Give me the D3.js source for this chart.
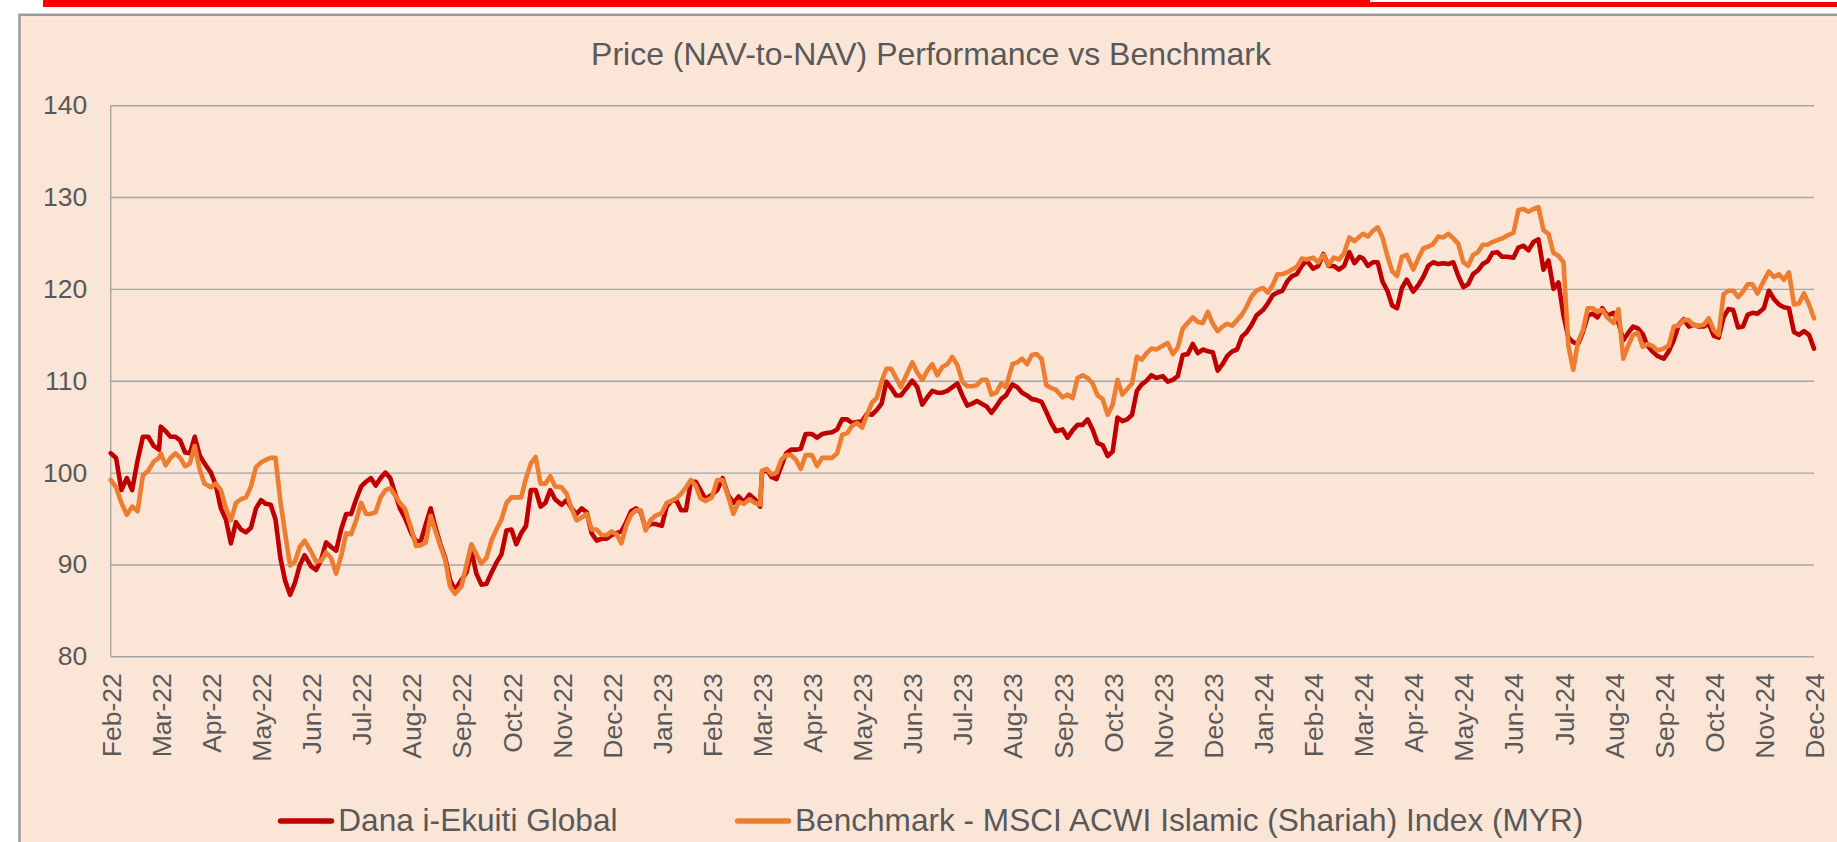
<!DOCTYPE html>
<html><head><meta charset="utf-8">
<script src="https://cdn.jsdelivr.net/npm/d3@7"></script>
<style>html,body{margin:0;padding:0;background:#fff;overflow:hidden;} svg{display:block;}</style>
</head><body>
<svg id="chart" width="1837" height="842"></svg>
<script>
const chartTitle = "Price (NAV-to-NAV) Performance vs Benchmark";
const seriesNames = ["Dana i-Ekuiti Global", "Benchmark - MSCI ACWI Islamic (Shariah) Index (MYR)"];
const monthLabels = ["Feb-22","Mar-22","Apr-22","May-22","Jun-22","Jul-22","Aug-22","Sep-22","Oct-22","Nov-22","Dec-22",
 "Jan-23","Feb-23","Mar-23","Apr-23","May-23","Jun-23","Jul-23","Aug-23","Sep-23","Oct-23","Nov-23","Dec-23",
 "Jan-24","Feb-24","Mar-24","Apr-24","May-24","Jun-24","Jul-24","Aug-24","Sep-24","Oct-24","Nov-24","Dec-24"];
const yTicks = [80, 90, 100, 110, 120, 130, 140];

const dates = [
"2022-02-01","2022-02-04","2022-02-07","2022-02-10","2022-02-13","2022-02-16","2022-02-19","2022-02-22","2022-02-25","2022-02-28",
"2022-03-01","2022-03-04","2022-03-07","2022-03-10","2022-03-13","2022-03-16","2022-03-19","2022-03-22","2022-03-25","2022-03-28",
"2022-04-01","2022-04-04","2022-04-07","2022-04-10","2022-04-13","2022-04-16","2022-04-19","2022-04-22","2022-04-25","2022-04-28",
"2022-05-01","2022-05-04","2022-05-07","2022-05-10","2022-05-13","2022-05-16","2022-05-19","2022-05-22","2022-05-25","2022-05-28",
"2022-06-01","2022-06-04","2022-06-07","2022-06-10","2022-06-13","2022-06-16","2022-06-19","2022-06-22","2022-06-25","2022-06-28",
"2022-07-01","2022-07-04","2022-07-07","2022-07-10","2022-07-13","2022-07-16","2022-07-19","2022-07-22","2022-07-25","2022-07-28",
"2022-08-01","2022-08-04","2022-08-07","2022-08-10","2022-08-13","2022-08-16","2022-08-19","2022-08-22","2022-08-25","2022-08-28",
"2022-09-01","2022-09-04","2022-09-07","2022-09-10","2022-09-13","2022-09-16","2022-09-19","2022-09-22","2022-09-25","2022-09-28",
"2022-10-01","2022-10-04","2022-10-07","2022-10-10","2022-10-13","2022-10-16","2022-10-19","2022-10-22","2022-10-25","2022-10-28",
"2022-11-01","2022-11-04","2022-11-07","2022-11-10","2022-11-13","2022-11-16","2022-11-19","2022-11-22","2022-11-25","2022-11-28",
"2022-12-01","2022-12-04","2022-12-07","2022-12-10","2022-12-13","2022-12-16","2022-12-19","2022-12-22","2022-12-25","2022-12-28",
"2023-01-01","2023-01-04","2023-01-07","2023-01-10","2023-01-13","2023-01-16","2023-01-19","2023-01-22","2023-01-25","2023-01-28",
"2023-02-01","2023-02-04","2023-02-07","2023-02-10","2023-02-13","2023-02-16","2023-02-19","2023-02-22","2023-02-25","2023-02-28",
"2023-03-01","2023-03-04","2023-03-07","2023-03-10","2023-03-13","2023-03-16","2023-03-19","2023-03-22","2023-03-25","2023-03-28",
"2023-04-01","2023-04-04","2023-04-07","2023-04-10","2023-04-13","2023-04-16","2023-04-19","2023-04-22","2023-04-25","2023-04-28",
"2023-05-01","2023-05-04","2023-05-07","2023-05-10","2023-05-13","2023-05-16","2023-05-19","2023-05-22","2023-05-25","2023-05-28",
"2023-06-01","2023-06-04","2023-06-07","2023-06-10","2023-06-13","2023-06-16","2023-06-19","2023-06-22","2023-06-25","2023-06-28",
"2023-07-01","2023-07-04","2023-07-07","2023-07-10","2023-07-13","2023-07-16","2023-07-19","2023-07-22","2023-07-25","2023-07-28",
"2023-08-01","2023-08-04","2023-08-07","2023-08-10","2023-08-13","2023-08-16","2023-08-19","2023-08-22","2023-08-25","2023-08-28",
"2023-09-01","2023-09-04","2023-09-07","2023-09-10","2023-09-13","2023-09-16","2023-09-19","2023-09-22","2023-09-25","2023-09-28",
"2023-10-01","2023-10-04","2023-10-07","2023-10-10","2023-10-13","2023-10-16","2023-10-19","2023-10-22","2023-10-25","2023-10-28",
"2023-11-01","2023-11-04","2023-11-07","2023-11-10","2023-11-13","2023-11-16","2023-11-19","2023-11-22","2023-11-25","2023-11-28",
"2023-12-01","2023-12-04","2023-12-07","2023-12-10","2023-12-13","2023-12-16","2023-12-19","2023-12-22","2023-12-25","2023-12-28",
"2024-01-01","2024-01-04","2024-01-07","2024-01-10","2024-01-13","2024-01-16","2024-01-19","2024-01-22","2024-01-25","2024-01-28",
"2024-02-01","2024-02-04","2024-02-07","2024-02-10","2024-02-13","2024-02-16","2024-02-19","2024-02-22","2024-02-25","2024-02-28",
"2024-03-01","2024-03-04","2024-03-07","2024-03-10","2024-03-13","2024-03-16","2024-03-19","2024-03-22","2024-03-25","2024-03-28",
"2024-04-01","2024-04-04","2024-04-07","2024-04-10","2024-04-13","2024-04-16","2024-04-19","2024-04-22","2024-04-25","2024-04-28",
"2024-05-01","2024-05-04","2024-05-07","2024-05-10","2024-05-13","2024-05-16","2024-05-19","2024-05-22","2024-05-25","2024-05-28",
"2024-06-01","2024-06-04","2024-06-07","2024-06-10","2024-06-13","2024-06-16","2024-06-19","2024-06-22","2024-06-25","2024-06-28",
"2024-07-01","2024-07-04","2024-07-07","2024-07-10","2024-07-13","2024-07-16","2024-07-19","2024-07-22","2024-07-25","2024-07-28",
"2024-08-01","2024-08-04","2024-08-07","2024-08-10","2024-08-13","2024-08-16","2024-08-19","2024-08-22","2024-08-25","2024-08-28",
"2024-09-01","2024-09-04","2024-09-07","2024-09-10","2024-09-13","2024-09-16","2024-09-19","2024-09-22","2024-09-25","2024-09-28",
"2024-10-01","2024-10-04","2024-10-07","2024-10-10","2024-10-13","2024-10-16","2024-10-19","2024-10-22","2024-10-25","2024-10-28",
"2024-11-01","2024-11-04","2024-11-07","2024-11-10","2024-11-13","2024-11-16","2024-11-19","2024-11-22","2024-11-25","2024-11-28",
"2024-12-01"];

const dana = [
102.1,101.6,98.1,99.4,98.1,101.3,103.9,103.9,102.9,102.5,
105.0,104.5,103.9,103.9,103.5,102.2,102.1,103.9,101.9,101.0,
100.0,98.6,96.1,94.9,92.3,94.6,93.8,93.5,94.0,96.1,
97.0,96.6,96.5,94.9,90.7,88.2,86.7,88.0,89.9,91.0,
89.8,89.4,90.5,92.4,91.9,91.5,93.8,95.5,95.5,97.1,
98.5,99.0,99.4,98.6,99.4,100.0,99.4,97.7,96.1,95.1,
93.4,92.5,92.6,94.4,96.1,94.0,92.2,90.7,88.3,87.2,
88.3,89.1,91.5,89.0,87.8,87.9,89.1,90.2,91.1,93.7,
93.8,92.2,93.4,94.2,98.1,98.1,96.3,96.7,98.1,97.1,
96.5,97.0,96.1,95.5,96.1,95.7,93.4,92.6,92.8,92.8,
93.2,93.4,93.6,94.6,95.8,96.1,95.7,93.9,94.4,94.4,
94.2,96.3,96.9,97.0,95.9,95.9,99.0,99.0,98.1,97.1,
97.6,98.1,99.4,97.6,96.7,97.4,96.8,97.6,97.1,96.3,
100.0,100.3,99.5,99.3,100.7,102.1,102.5,102.5,102.6,104.2,
104.2,103.8,104.2,104.3,104.4,104.7,105.8,105.8,105.4,105.5,
105.6,106.4,106.3,106.8,107.5,109.9,109.2,108.4,108.4,109.1,
110.0,109.3,107.4,108.2,108.9,108.7,108.7,108.9,109.3,109.7,
108.4,107.3,107.5,107.8,107.5,107.2,106.5,107.2,108.0,108.4,
109.6,109.3,108.7,108.4,108.0,107.9,107.7,106.6,105.4,104.5,
104.7,103.8,104.6,105.2,105.2,105.8,104.7,103.2,103.0,101.8,
102.3,106.0,105.6,105.8,106.3,108.9,109.6,110.0,110.6,110.3,
110.5,109.9,110.1,110.5,112.8,112.9,114.0,113.0,113.4,113.2,
113.1,111.1,111.8,112.7,113.2,113.4,114.8,115.3,116.1,117.1,
117.7,118.4,119.3,119.6,119.8,120.8,121.4,121.6,122.5,123.1,
122.2,122.5,123.8,122.5,122.5,122.1,122.5,124.0,122.8,123.5,
123.3,122.5,122.9,122.9,120.8,119.8,118.2,117.9,120.1,121.0,
119.7,120.4,121.3,122.5,122.9,122.7,122.8,122.7,122.9,121.4,
120.2,120.5,121.6,122.0,122.7,123.0,123.9,124.0,123.5,123.5,
123.4,124.5,124.7,124.2,125.1,125.4,122.1,123.1,120.0,120.7,
117.1,114.7,114.2,114.0,115.3,117.1,117.3,116.9,117.9,117.1,
117.4,116.3,114.4,115.2,115.9,115.7,115.1,113.8,113.2,112.7,
112.4,113.2,114.4,116.1,116.7,115.9,116.1,115.9,115.9,116.2,
114.9,114.7,116.9,117.8,117.7,115.8,115.9,117.2,117.4,117.3,
117.9,119.8,118.9,118.3,118.0,117.9,115.3,115.0,115.4,115.0,
113.5];

const benchmark = [
99.2,98.4,96.7,95.4,96.3,95.8,99.7,100.2,101.2,101.6,
102.1,100.8,101.6,102.1,101.6,100.7,101.0,102.9,100.4,98.8,
98.4,98.8,98.1,96.1,94.8,96.7,97.1,97.3,98.5,100.6,
101.1,101.4,101.6,101.6,96.9,93.3,89.9,90.3,91.9,92.6,
91.4,90.3,90.4,91.3,90.7,89.0,90.9,93.4,93.3,94.8,
96.7,95.5,95.5,95.7,97.3,98.1,98.3,97.5,96.7,96.1,
93.9,92.0,92.1,92.4,95.3,93.6,92.0,90.5,87.6,86.8,
87.6,89.9,92.2,91.1,90.1,90.7,92.6,93.8,94.9,96.7,
97.3,97.3,97.3,99.4,101.0,101.7,98.8,98.8,99.6,98.5,
98.4,97.7,96.1,94.8,95.1,95.5,93.8,93.8,93.2,93.2,
93.6,93.3,92.3,94.2,95.4,95.9,95.9,93.7,94.8,95.3,
95.6,96.7,96.9,97.2,97.7,98.4,99.2,98.6,97.2,96.9,
97.3,99.2,99.2,97.5,95.5,96.8,96.6,97.1,96.7,96.5,
100.2,100.4,99.8,100.0,101.4,101.9,101.9,101.4,100.4,101.9,
101.9,100.7,101.6,101.6,101.6,102.1,104.1,104.3,105.1,105.4,
104.9,106.3,107.6,108.1,109.9,111.3,111.3,110.3,109.3,110.5,
112.0,110.9,110.1,111.1,111.8,110.6,111.5,111.8,112.6,111.7,
109.9,109.4,109.4,109.5,110.1,110.1,108.5,108.7,109.7,109.3,
111.8,112.0,112.4,111.8,112.8,112.9,112.4,109.5,109.2,109.0,
108.2,108.5,108.1,110.3,110.6,110.3,109.7,108.4,108.0,106.3,
107.4,110.1,108.5,109.1,109.7,112.6,112.3,113.0,113.5,113.4,
113.8,114.1,112.9,113.6,115.7,116.3,116.9,116.4,116.3,117.5,
116.2,115.4,115.9,116.2,116.0,116.6,117.2,118.1,119.2,119.8,
120.1,119.6,120.4,121.6,121.6,121.8,122.1,122.4,123.3,123.2,
123.4,122.9,123.7,122.6,123.4,123.2,123.9,125.6,125.2,125.7,
126.0,125.7,126.3,126.7,125.6,123.6,121.9,121.4,123.5,123.7,
122.1,123.3,124.4,124.6,124.9,125.7,125.6,126.0,125.5,124.9,
122.9,122.5,123.7,124.0,124.8,124.8,125.1,125.3,125.5,125.8,
126.1,128.6,128.7,128.4,128.7,128.9,126.4,126.0,123.9,123.6,
122.9,113.8,111.2,114.2,115.5,117.9,117.9,117.5,117.7,116.9,
116.3,117.8,112.4,113.8,115.0,115.2,113.7,114.0,113.8,113.3,
113.5,113.8,115.9,116.0,116.6,116.6,116.0,116.0,116.1,116.8,
115.5,115.0,119.4,119.8,119.8,119.1,119.7,120.5,120.5,119.5,
120.9,121.9,121.3,121.6,121.0,121.8,118.3,118.4,119.5,118.3,
116.8];

const seriesColors = ["#C00000", "#ED7D31"];

// ---------- layout ----------
const svg = d3.select("#chart");
const W = 1837, H = 842;
const plot = {left: 110.7, right: 1814, top: 105.2, bottom: 656.3};
const textColor = "#595959";
const gridColor = "#A6A6A6";
const font = "'Liberation Sans', Arial, Helvetica, sans-serif";

// header red strip
svg.append("rect").attr("x", 43).attr("y", 0).attr("width", 1327).attr("height", 7).attr("fill", "#FF0000");
svg.append("rect").attr("x", 1370).attr("y", 2).attr("width", W - 1370).attr("height", 5).attr("fill", "#FF0000");

// chart frame
svg.append("rect").attr("x", 19.5).attr("y", 14.8).attr("width", W).attr("height", H)
  .attr("fill", "#FBE5D6").attr("stroke", "#9B9B9B").attr("stroke-width", 2.5);

// title
svg.append("text").attr("x", 931).attr("y", 64.5).attr("text-anchor", "middle")
  .attr("font-family", font).attr("font-size", 32).attr("fill", textColor).text(chartTitle);

// scales
const parse = d3.timeParse("%Y-%m-%d");
const start = parse("2022-02-01");
function monthPos(d) {
  const ms = d3.timeMonth.floor(d);
  const me = d3.timeMonth.offset(ms, 1);
  return d3.timeMonth.count(start, ms) + (d - ms) / (me - ms);
}
const x = d3.scaleLinear().domain([0, monthLabels.length - 1]).range([plot.left, plot.right]);
const y = d3.scaleLinear().domain([80, 140]).range([plot.bottom, plot.top]);

// y axis + gridlines
const yAxis = svg.append("g").attr("transform", `translate(${plot.left},0)`)
  .call(d3.axisLeft(y).tickValues(yTicks).tickSize(-(plot.right - plot.left)).tickPadding(23.5).tickFormat(d3.format("d")));
yAxis.select(".domain").remove();
yAxis.selectAll(".tick line").attr("stroke", gridColor).attr("stroke-width", 1.4);
yAxis.selectAll(".tick text").attr("font-family", font).attr("font-size", 26.5).attr("fill", textColor);

// vertical axis line
svg.append("line").attr("x1", plot.left).attr("x2", plot.left).attr("y1", plot.top).attr("y2", plot.bottom)
  .attr("stroke", gridColor).attr("stroke-width", 1.4);

// x axis
const xAxis = svg.append("g").attr("transform", `translate(0,${plot.bottom})`)
  .call(d3.axisBottom(x).tickValues(d3.range(monthLabels.length)).tickSize(0).tickFormat(i => monthLabels[i]));
xAxis.select(".domain").remove();
xAxis.selectAll(".tick text")
  .attr("font-family", font).attr("font-size", 26.5).attr("fill", textColor)
  .attr("text-anchor", "end").attr("transform", "rotate(-90)")
  .attr("x", -17).attr("y", 0).attr("dy", "0.36em");

// lines
const rows = dates.map((s, i) => ({date: parse(s), dana: dana[i], bench: benchmark[i]}));
const lineFor = key => d3.line().x(d => x(monthPos(d.date))).y(d => y(d[key]));
[["dana", 0], ["bench", 1]].forEach(([key, i]) => {
  svg.append("path").datum(rows).attr("d", lineFor(key))
    .attr("fill", "none").attr("stroke", seriesColors[i]).attr("stroke-width", 4.6)
    .attr("stroke-linejoin", "round").attr("stroke-linecap", "round");
});

// legend
const legendItems = [{x: 280.5, tx: 338.3}, {x: 737.5, tx: 795}];
legendItems.forEach((it, i) => {
  svg.append("line").attr("x1", it.x).attr("x2", it.x + 51).attr("y1", 821).attr("y2", 821)
    .attr("stroke", seriesColors[i]).attr("stroke-width", 5.3).attr("stroke-linecap", "round");
  svg.append("text").attr("x", it.tx).attr("y", 831).attr("font-family", font).attr("font-size", 31.6)
    .attr("fill", textColor).text(seriesNames[i]);
});
</script>
</body></html>
